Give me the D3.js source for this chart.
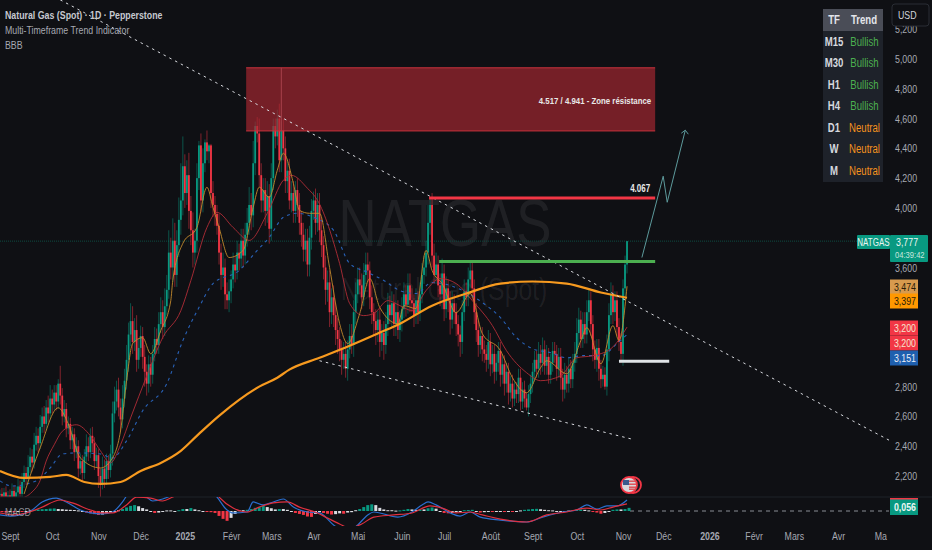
<!DOCTYPE html>
<html>
<head>
<meta charset="utf-8">
<script src="https://cdn.jsdelivr.net/npm/d3@7"></script>
<style>
html, body { margin: 0; padding: 0; background: #0f1014; }
svg { display: block; }
text { font-family: "Liberation Sans", sans-serif; }
</style>
</head>
<body>
<script>
const W = 932, H = 550;

// daily closes, first bar is index -5 (open = previous close)
const firstBar = -5;
const closes = [
    2.08,2.06,2.09,2.05,2.07,
    2.05,2.10,2.06,2.09,2.13,2.08,2.16,2.22,2.18,2.26,
    2.33,2.29,2.41,2.47,2.42,2.53,2.60,2.55,2.66,2.62,2.72,
    2.68,2.76,2.70,2.82,2.74,2.60,2.65,2.52,2.55,2.44,
    2.48,2.36,2.40,2.25,2.30,2.22,2.33,2.40,2.36,2.47,2.42,2.30,2.34,
    2.20,2.15,2.25,2.18,2.30,2.24,2.35,2.62,2.70,
    2.78,2.66,2.58,2.72,2.84,2.98,3.15,3.24,
    3.10,3.18,2.98,3.06,3.14,3.00,2.90,2.82,
    2.95,2.88,3.02,3.12,3.08,3.22,3.30,
    3.20,3.34,3.45,3.70,3.60,3.78,3.55,3.75,3.92,4.05,4.28,
    4.10,4.22,3.98,3.85,3.70,3.78,
    4.20,4.42,4.05,4.30,4.44,4.38,4.42,4.10,
    4.02,3.96,3.88,3.70,3.55,3.60,3.42,3.38,3.44,3.52,
    3.62,3.58,3.70,3.66,3.78,3.68,3.82,3.90,
    4.02,3.95,4.30,4.55,4.50,4.22,
    4.05,4.12,3.98,4.08,3.86,4.20,4.55,
    4.48,4.60,4.32,4.52,4.40,4.18,4.25,4.05,
    4.10,3.98,4.12,4.02,3.90,3.82,3.72,3.78,3.62,3.80,3.98,
    4.05,3.90,4.02,3.85,3.75,3.60,3.45,3.50,3.30,3.40,
    3.28,3.18,3.12,3.05,2.98,3.02,2.92,3.05,3.14,3.08,3.30,3.42,3.52,3.48,3.40,
    3.55,3.62,3.58,3.40,3.30,3.24,3.18,3.25,3.10,3.16,3.08,
    3.22,3.35,3.28,3.36,3.22,3.30,3.18,3.25,3.32,3.42,3.35,3.48,3.38,
    3.36,3.28,3.38,3.30,3.42,3.55,3.60,3.70,
    3.90,4.02,3.68,3.55,3.62,3.48,3.42,
    3.56,3.32,3.46,3.38,3.25,3.36,3.30,3.22,3.15,3.10,
    3.30,3.44,3.40,3.52,3.58,3.46,3.30,3.18,
    3.08,3.14,3.05,3.02,2.98,3.10,2.95,3.02,2.90,2.96,3.04,2.88,2.95,
    2.82,2.90,2.76,2.82,2.72,2.78,2.75,2.86,2.70,2.78,2.72,2.66,2.75,
    2.82,2.90,2.98,2.92,3.02,2.96,3.05,2.94,3.00,2.88,2.96,3.04,
    3.02,2.92,3.00,2.86,2.78,2.88,2.82,2.92,2.85,2.96,3.02,
    3.16,3.25,3.12,3.22,3.15,3.30,3.38,3.22,3.05,2.98,3.06,
    2.92,2.85,2.88,2.80,3.05,
    3.28,3.42,3.30,3.38,3.20,3.10,3.02,3.46,
    3.62,3.777
];
// wick lengths in cents above / below the body
const upperWick = [
    3,4,3,4,3,
    4,5,3,4,5,4,6,5,4,8,
    6,5,8,6,5,8,6,7,5,8,9,
    6,5,5,3,12,5,6,4,5,4,
    5,4,6,4,5,4,5,8,6,5,6,4,5,
    4,5,8,6,5,4,6,8,10,
    6,8,6,9,8,10,8,12,
    10,8,10,6,7,6,8,5,
    6,5,6,8,7,8,10,
    8,12,10,15,10,15,12,10,15,25,20,
    8,10,15,10,12,8,
    10,3,8,10,2,8,1,1,
    8,6,6,8,6,10,6,8,8,6,
    8,6,8,6,8,8,8,10,
    12,8,15,3,6,10,
    8,8,8,10,8,10,5,
    5,6,10,6,8,8,8,8,
    8,8,6,8,8,8,8,8,8,8,8,
    6,8,8,8,8,6,8,8,8,6,
    8,8,8,8,6,8,8,6,8,8,8,8,8,8,8,
    8,8,8,6,8,6,8,6,8,6,8,
    8,8,6,8,6,8,8,6,8,8,6,8,8,
    8,6,8,6,8,8,8,8,
    12,4,8,8,8,6,8,
    10,6,8,6,6,8,6,6,6,6,
    8,8,6,8,6,6,6,6,
    6,6,6,6,6,8,6,6,6,6,6,6,6,
    6,6,6,5,6,5,5,6,6,5,6,4,6,
    6,6,6,6,8,6,8,6,8,6,6,6,
    6,6,6,6,6,8,6,8,6,6,8,
    10,8,6,8,8,8,8,6,6,6,6,
    6,6,6,5,10,
    8,8,6,6,6,6,6,6,
    6,0
];
const lowerWick = [
    3,3,3,3,3,
    4,3,5,3,3,4,3,4,4,3,
    4,6,4,4,6,4,4,6,4,6,4,
    6,4,6,5,6,6,4,6,4,6,
    6,6,4,6,4,6,4,4,6,4,6,6,4,
    8,10,4,6,4,6,5,8,6,
    6,6,8,6,6,6,8,8,
    8,6,8,6,6,8,10,8,
    6,8,6,5,6,6,6,
    8,6,6,6,8,10,8,8,8,10,10,
    10,8,12,10,10,8,
    8,8,8,8,6,6,8,10,
    8,8,6,8,10,8,10,6,8,8,
    6,8,6,8,6,8,6,8,
    8,10,8,8,6,8,
    8,8,10,8,10,8,8,
    8,6,8,8,8,8,8,6,
    8,8,8,8,8,8,8,8,8,8,8,
    6,8,6,8,8,8,10,8,10,8,
    8,10,10,8,10,6,6,8,6,6,8,8,6,6,8,
    6,6,8,8,8,10,10,8,10,6,10,
    6,8,6,8,8,8,6,8,8,6,8,6,8,
    6,8,6,8,6,6,6,6,
    8,8,8,6,6,8,8,
    10,8,6,8,10,6,8,8,8,10,
    8,6,6,6,6,8,8,8,
    8,6,8,6,8,6,8,6,8,6,6,8,6,
    8,6,8,6,6,5,6,6,6,5,6,2,6,
    6,6,6,6,6,8,6,6,6,6,6,6,
    6,8,6,8,8,6,6,6,6,6,6,
    6,8,6,6,6,6,6,8,8,6,8,
    8,6,5,2,6,
    8,6,8,6,6,6,6,8,
    8,6
];

const longIdx = [-5,7,20,28,37,45,55,65,75,85,94,104,124,133,139,154,169,184,194,210,227,244,260,277,294,307];
const longVal = [2.234,2.187,2.194,2.207,2.16,2.147,2.16,2.234,2.288,2.369,2.483,2.604,2.80,2.86,2.914,2.994,3.075,3.163,3.223,3.344,3.425,3.492,3.506,3.492,3.432,3.397];
const fastIdx = [7,15,24,29,35,45,50,55,58,61,66,70,75,80,81,86,93,98,101,104,109,116,121,124,129,133,136,141,144,149,154,159,164,168,174,179,184,193,196,202,207,210,215,222,229,235,244,250,257,264,267,277,284,287,294,300,303,307];
const fastVal = [2.079,2.389,2.658,2.55,2.321,2.254,2.301,2.503,2.84,3.089,3.129,3.021,3.176,3.378,3.513,3.762,3.869,4.139,4.004,3.869,3.667,3.715,4.004,4.139,4.071,4.253,4.367,4.165,3.984,3.964,3.964,3.6,3.223,3.089,3.291,3.526,3.331,3.223,3.344,3.324,3.715,3.58,3.492,3.297,3.425,3.156,3.042,2.86,2.759,2.927,2.974,2.887,3.109,3.196,2.954,3.21,3.109,3.474];
const midIdx = [-5,5,11,15,18,22,26,33,40,45,50,55,60,68,76,85,90,98,103,111,119,128,136,140,148,153,164,169,176,181,188,194,200,207,214,222,230,240,247,257,264,274,282,290,299,307];
const midVal = [2.066,2.052,2.093,2.17,2.30,2.41,2.50,2.544,2.47,2.369,2.288,2.41,2.59,2.87,3.13,3.31,3.513,3.869,3.97,3.869,3.782,3.964,4.186,4.219,4.132,4.051,3.627,3.358,3.277,3.291,3.378,3.344,3.311,3.445,3.526,3.492,3.378,3.21,3.042,2.894,2.84,2.873,2.994,3.008,3.055,3.2];
const slowIdx = [-5,1,13,20,26,33,45,51,58,66,78,86,94,101,114,123,129,136,143,151,161,169,178,186,194,202,210,219,227,235,244,252,260,269,277,285,294,302,307];
const slowVal = [2.167,2.133,2.167,2.254,2.348,2.355,2.348,2.321,2.436,2.638,2.82,3.109,3.331,3.492,3.58,3.715,3.802,3.937,3.964,3.937,3.849,3.627,3.567,3.513,3.445,3.425,3.499,3.479,3.432,3.365,3.264,3.129,3.055,3.028,2.994,3.008,3.008,3.089,3.151];

// MACD panel
const macdIdx = [-5,0,5,11,16,23,28,35,40,46,51,56,59,63,68,71,76,81,90,97,103,108,111,118,121,126,131,136,141,148,154,161,167,173,178,181,193,200,205,208,212,219,224,229,234,244,257,265,275,282,287,292,297,302,307];
const macdVal = [-.02,-.026,-.02,.005,.046,.066,.046,.005,-.01,-.015,-.005,.046,.092,.122,.071,.051,.061,.082,.133,.133,.071,.005,-.01,-.005,.046,.031,.046,.061,.02,-.005,-.01,-.071,-.107,-.071,-.02,-.005,-.031,-.005,.031,.046,.031,-.01,-.026,-.005,-.031,-.046,-.056,-.031,-.005,.005,.031,.01,.026,.026,.056];
const signalIdx = [-5,2,8,15,25,31,40,46,51,58,63,70,76,81,92,100,104,111,118,124,131,138,144,153,158,164,169,175,181,191,200,209,215,222,229,235,244,257,267,277,287,294,300,307];
const signalVal = [-.01,-.02,-.01,.015,.056,.041,.005,-.01,-.01,.031,.071,.066,.051,.071,.122,.122,.071,.015,-.005,.02,.041,.046,.02,-.01,-.036,-.066,-.087,-.066,-.031,-.02,-.01,.026,.015,-.01,-.005,-.02,-.041,-.056,-.02,-.005,.015,.005,.02,.036];
// histogram in hundredths, one value every 2 bars from index -4
const histFirst = -4, histStep = 2;
const histVal = [
    -.6,-.8,-.5,-.7,-.4,-.5,-.3,.3, .5,.8,.9,1,1.2,1.3,1,.9, .7,.6,.5,.3,-.3,
    -.8,-1.2,-1.6,-2,-1.8,-1.5,-.8, -.4,.4,1,1.8,2.6,3,2.4,1.5, .8,-.4,-1,-.8,-.3,.3,.3,
    -.2,.4,1,1,1.5,.8, .4,-.3,-.4,-.6,-1, -2.5,-4,-5,-3.5,-1.5, .4,.4,.6,1,
    1.6,2,2.6,2,1.4,.8,1,1, .6,-.4,-1,-1.5,-2,-2.8,-3,-1.5,-.6,
    -1,-1.4,-1.8,-1.6,-1.2,-1.4,-.8,-.6,.4, 1,2,3,3.4,3,1.6,.8,.4,
    .4,.2,.3,.6,1,.8,.6,.8, .8,1.4,1.8,1.2,-.5,-1,-1.2,-1,
    -.6,-.3,.4,.5,.6,-.4,-.8,-.6, -.3,-.4,-.3,-.2,-.4,-.3,-.4,-.3,
    .3,.6,.8,1,1.1,.9,.6,.4, .3,-.3,-.3,-.2,.2,.5,.7,.8,
    .6,.3,-.4,-.8,-1.4,-1,-.5,.6, .8,.8,1,1.6
];

// axes, ticks hidden behind the price tags in the reference are left out
const priceTicks = [5.2,5,4.8,4.6,4.4,4.2,4,3.6,2.8,2.6,2.4,2.2];
const timeIdx = [0,21,44,65,87,110,130,151,173,195,216,239,260,282,305,325,348,370,390,412,433];
const timeLabels = ["Sept","Oct","Nov","Déc","2025","Févr","Mars","Avr","Mai","Juin","Juil","Août","Sept","Oct","Nov","Déc","2026","Févr","Mars","Avr","Ma"];

// trend table
const tfNames = ["M15","M30","H1","H4","D1","W","M"];
const tfTrends = ["Bullish","Bullish","Bullish","Bullish","Neutral","Neutral","Neutral"];

// price tags on the right
const tagValues = ["3,474","3,397","3,200","3,200","3,151"];
const tagFills = ["#d79a4e","#ff9800","#f23645","#f23645","#1e5fae"];
const tagText = ["#2a1c08","#2a1c08","#f6e6d0","#f6e6d0","#e8eef8"];

const svg = d3.select("body").append("svg").attr("width", W).attr("height", H);
svg.append("rect").attr("width", W).attr("height", H).attr("fill", "#0f1014");

const x = d3.scaleLinear().domain([0, 305]).range([10, 623]);
const y = d3.scaleLinear().domain([5, 2.2]).range([59, 476]);
const yMacd = d3.scaleLinear().domain([0.056, 0]).range([500, 511]);
const comma = d3.formatLocale({decimal: ",", thousands: " ", grouping: [3], currency: ["", ""]}).format(".3f");

const defs = svg.append("defs");
defs.append("clipPath").attr("id", "mainClip").append("rect").attr("x", 0).attr("y", 0).attr("width", 889).attr("height", 497);
defs.append("clipPath").attr("id", "macdClip").append("rect").attr("x", 0).attr("y", 497).attr("width", 889).attr("height", 29);

// watermark
svg.append("text").attr("x", 445).attr("y", 246).attr("text-anchor", "middle")
    .attr("font-size", 66).attr("fill", "#fff").attr("fill-opacity", 0.07).text("NATGAS");
svg.append("text").attr("x", 444).attr("y", 300).attr("text-anchor", "middle")
    .attr("font-size", 31).attr("fill", "#fff").attr("fill-opacity", 0.07).text("Natural Gas (Spot)");

const main = svg.append("g").attr("clip-path", "url(#mainClip)");

// last price line
main.append("line").attr("x1", 0).attr("x2", 857).attr("y1", y(3.777)).attr("y2", y(3.777))
    .attr("stroke", "#0d4a40").attr("stroke-width", 1).attr("stroke-dasharray", "1 1");

// candles
const bars = closes.map((c, i) => {
    const open = i > 0 ? closes[i - 1] : c;
    return {
        i: firstBar + i, open: open, close: c,
        high: Math.max(open, c) + upperWick[i] / 100,
        low: Math.min(open, c) - lowerWick[i] / 100
    };
});
const colorOf = (d) => d.close >= d.open ? "#089981" : "#f23645";
main.append("g").selectAll("line").data(bars).join("line")
    .attr("x1", (d) => x(d.i)).attr("x2", (d) => x(d.i))
    .attr("y1", (d) => y(d.high)).attr("y2", (d) => y(d.low))
    .attr("stroke", colorOf).attr("stroke-width", 1).attr("stroke-opacity", 0.5);
main.append("g").selectAll("rect").data(bars).join("rect")
    .attr("x", (d) => x(d.i) - 0.9).attr("width", 1.8)
    .attr("y", (d) => y(Math.max(d.open, d.close)))
    .attr("height", (d) => Math.max(1, Math.abs(y(d.open) - y(d.close))))
    .attr("fill", colorOf);

// moving averages
const maLine = d3.line().x((d) => x(d[0])).y((d) => y(d[1])).curve(d3.curveMonotoneX);
const drawMa = (idx, val, color, width, dash) => main.append("path")
    .attr("d", maLine(d3.zip(idx, val)))
    .attr("fill", "none").attr("stroke", color).attr("stroke-width", width)
    .attr("stroke-dasharray", dash);
drawMa(slowIdx, slowVal, "#2962b8", 1.1, "3 4");
drawMa(midIdx, midVal, "#b02c37", 0.9, null);
drawMa(fastIdx, fastVal, "#c48a2c", 0.9, null);
drawMa(longIdx, longVal, "#f79a1f", 2.2, null);

// resistance zone
const zoneLeft = 117.5, zoneRight = 321, zoneTop = 4.941, zoneBottom = 4.517;
main.append("rect").attr("x", x(zoneLeft)).attr("width", x(zoneRight) - x(zoneLeft))
    .attr("y", y(zoneTop)).attr("height", y(zoneBottom) - y(zoneTop))
    .attr("fill", "#a62630").attr("fill-opacity", 0.68);
[zoneTop, zoneBottom].forEach((v) => main.append("line")
    .attr("x1", x(zoneLeft)).attr("x2", x(zoneRight)).attr("y1", y(v)).attr("y2", y(v))
    .attr("stroke", "#c9323d").attr("stroke-width", 1));
main.append("line").attr("x1", x(135)).attr("x2", x(135)).attr("y1", y(zoneTop)).attr("y2", y(zoneBottom))
    .attr("stroke", "#a8424b").attr("stroke-width", 1);
main.append("text").attr("x", x(zoneRight) - 4).attr("y", 104).attr("text-anchor", "end")
    .attr("font-size", 9.8).attr("font-weight", 700).attr("fill", "#e8e8e8")
    .text("4.517 / 4.941 - Zone résistance");

// trend lines
const trendA = [[25, 5.397], [438, 2.436]];
const trendB = [[154, 2.974], [309, 2.449]];
[trendA, trendB].forEach((t) => main.append("line")
    .attr("x1", x(t[0][0])).attr("y1", y(t[0][1])).attr("x2", x(t[1][0])).attr("y2", y(t[1][1]))
    .attr("stroke", "#d8dadf").attr("stroke-width", 1).attr("stroke-dasharray", "2.5 4"));

// levels
const levelLine = (i0, i1, v, color) => main.append("line")
    .attr("x1", x(i0)).attr("x2", x(i1)).attr("y1", y(v)).attr("y2", y(v))
    .attr("stroke", color).attr("stroke-width", 3);
levelLine(208.5, 321, 4.067, "#f23645");
levelLine(213.5, 321, 3.64, "#4caf50");
levelLine(303, 328, 2.97, "#dfe3e6");
main.append("text").attr("x", x(321) - 5).attr("y", 192).attr("text-anchor", "end")
    .attr("font-size", 10).attr("font-weight", 700).attr("fill", "#e8e8e8").text("4.067");

// arrow
const arrowPts = [[314.4, 3.667], [325, 4.213], [327, 4.038], [336, 4.522]];
main.append("path")
    .attr("d", d3.line().x((d) => x(d[0])).y((d) => y(d[1]))(arrowPts))
    .attr("fill", "none").attr("stroke", "#5d9a9c").attr("stroke-width", 1);
const tip = arrowPts[3];
main.append("path")
    .attr("d", `M${x(tip[0]) - 4},${y(tip[1]) + 3}L${x(tip[0])},${y(tip[1])}L${x(tip[0]) + 3},${y(tip[1]) + 4}`)
    .attr("fill", "none").attr("stroke", "#5d9a9c").attr("stroke-width", 1);

// earnings marker
const mark = svg.append("g").attr("transform", "translate(631,485)");
mark.append("circle").attr("cx", 2).attr("r", 8).attr("fill", "#171a22").attr("stroke", "#f23645").attr("stroke-width", 1.8);
mark.append("circle").attr("cx", -2).attr("r", 8).attr("fill", "#d8d8dc").attr("stroke", "#f23645").attr("stroke-width", 1.8);
mark.append("rect").attr("x", -8).attr("y", -5).attr("width", 6).attr("height", 5).attr("fill", "#3a5a8c");
[-4, -1, 2, 4].forEach((v) => mark.append("rect").attr("x", -2).attr("y", v - 0.5).attr("width", 7).attr("height", 1.4).attr("fill", "#e04a4f"));

// MACD panel
svg.append("line").attr("x1", 0).attr("x2", W).attr("y1", 497).attr("y2", 497).attr("stroke", "#1f2228");
svg.append("line").attr("x1", 630).attr("x2", 889).attr("y1", yMacd(0)).attr("y2", yMacd(0))
    .attr("stroke", "#8a8d94").attr("stroke-dasharray", "4 4");
const macd = svg.append("g").attr("clip-path", "url(#macdClip)");
const hist = histVal.map((v, i) => ({
    i: histFirst + i * histStep, v: v / 100,
    grow: i > 0 ? Math.abs(v) > Math.abs(histVal[i - 1]) : true
}));
const histColor = (d) => d.v >= 0 ? (d.grow ? "#089981" : "#d9dbe0") : (d.grow ? "#f23645" : "#d9dbe0");
macd.selectAll("rect").data(hist).join("rect")
    .attr("x", (d) => x(d.i) - 1.5).attr("width", 3)
    .attr("y", (d) => Math.min(yMacd(d.v), yMacd(0)))
    .attr("height", (d) => Math.max(1, Math.abs(yMacd(d.v) - yMacd(0))))
    .attr("fill", histColor);
const macdLine = d3.line().x((d) => x(d[0])).y((d) => yMacd(d[1])).curve(d3.curveMonotoneX);
macd.append("path").attr("d", macdLine(d3.zip(macdIdx, macdVal)))
    .attr("fill", "none").attr("stroke", "#2a6fd0").attr("stroke-width", 1.2);
macd.append("path").attr("d", macdLine(d3.zip(signalIdx, signalVal)))
    .attr("fill", "none").attr("stroke", "#e0303f").attr("stroke-width", 1.2);
svg.append("text").attr("x", 5).attr("y", 516).attr("font-size", 11).attr("fill", "#b2b5be").attr("fill-opacity", 0.75).text("MACD");

// right price axis
const yAxis = svg.append("g").attr("transform", "translate(895,0)")
    .call(d3.axisRight(y).tickValues(priceTicks).tickSize(0).tickPadding(0).tickFormat(comma));
yAxis.select(".domain").remove();
yAxis.selectAll("text").attr("font-size", 11).attr("fill", "#a6a9b2");

// bottom time axis
const xAxis = svg.append("g").attr("transform", "translate(0,532)")
    .call(d3.axisBottom(x).tickValues(timeIdx).tickSize(0).tickPadding(0).tickFormat((d, i) => timeLabels[i]));
xAxis.select(".domain").remove();
xAxis.selectAll("text").attr("font-size", 11).attr("fill", "#a6a9b2")
    .attr("font-weight", (d, i) => /^20/.test(timeLabels[i]) ? 700 : 400);

// price tags
tagValues.forEach((v, i) => {
    const cy = [287, 301, 328, 343, 358][i];
    svg.append("rect").attr("x", 890).attr("y", cy - 7.5).attr("width", 28).attr("height", 15).attr("fill", tagFills[i]);
    svg.append("text").attr("x", 916).attr("y", cy + 4).attr("text-anchor", "end")
        .attr("font-size", 11).attr("fill", tagText[i]).text(v);
});

// last price tag
svg.append("rect").attr("x", 857).attr("y", 235).attr("width", 33).attr("height", 14).attr("rx", 1).attr("fill", "#089981");
svg.append("text").attr("x", 873.5).attr("y", 246).attr("text-anchor", "middle")
    .attr("font-size", 10).attr("fill", "#e8f5f1").text("NATGAS");
svg.append("rect").attr("x", 890).attr("y", 235).attr("width", 38).attr("height", 27).attr("rx", 1).attr("fill", "#089981");
svg.append("text").attr("x", 896).attr("y", 246).attr("font-size", 11).attr("fill", "#eef8f5").text("3,777");
svg.append("text").attr("x", 895).attr("y", 258).attr("font-size", 9.5).attr("fill", "#c9e6de").text("04:39:42");

// MACD value tag
svg.append("rect").attr("x", 890).attr("y", 498).attr("width", 28).attr("height", 17).attr("fill", "#089981");
svg.append("rect").attr("x", 890).attr("y", 498).attr("width", 28).attr("height", 1.5).attr("fill", "#f23645");
svg.append("text").attr("x", 916).attr("y", 511).attr("text-anchor", "end")
    .attr("font-size", 11).attr("font-weight", 700).attr("fill", "#eef8f5").text("0,056");

// USD button
svg.append("rect").attr("x", 892).attr("y", 4).attr("width", 37).attr("height", 22).attr("rx", 3)
    .attr("fill", "#0f1014").attr("stroke", "#2a2d34");
svg.append("text").attr("x", 898).attr("y", 19).attr("font-size", 11).attr("fill", "#d1d4dc").text("USD");

// legend top left
svg.append("text").attr("x", 5).attr("y", 19).attr("font-size", 11).attr("font-weight", 700).attr("fill", "#c6c9d0")
    .text("Natural Gas (Spot) · 1D · Pepperstone");
svg.append("text").attr("x", 5).attr("y", 34).attr("font-size", 11).attr("fill", "#a6a9b2").text("Multi-Timeframe Trend Indicator");
svg.append("text").attr("x", 5).attr("y", 49).attr("font-size", 11).attr("fill", "#a6a9b2").text("BBB");

// trend table
const table = svg.append("g");
table.append("rect").attr("x", 823).attr("y", 9).attr("width", 60).attr("height", 173).attr("fill", "#1e222a");
table.append("rect").attr("x", 823).attr("y", 9).attr("width", 60).attr("height", 22).attr("fill", "#4a4d57");
table.append("text").attr("x", 834).attr("y", 24).attr("text-anchor", "middle").attr("font-size", 12).attr("font-weight", 700).attr("fill", "#e3e5ea").text("TF");
table.append("text").attr("x", 864).attr("y", 24).attr("text-anchor", "middle").attr("font-size", 12).attr("font-weight", 700).attr("fill", "#e3e5ea").text("Trend");
tfNames.forEach((t, i) => {
    const ry = 45.5 + i * 21.5;
    table.append("text").attr("x", 834).attr("y", ry).attr("text-anchor", "middle")
        .attr("font-size", 12).attr("font-weight", 700).attr("fill", "#d5d8de").text(t);
    table.append("text").attr("x", 864.5).attr("y", ry).attr("text-anchor", "middle")
        .attr("font-size", 12).attr("fill", tfTrends[i] === "Bullish" ? "#4caf50" : "#f7931e").text(tfTrends[i]);
});

// the reference font is narrow, squeeze every label to match
svg.selectAll("text").each(function () {
    d3.select(this)
        .attr("textLength", this.getComputedTextLength() * 0.8)
        .attr("lengthAdjust", "spacingAndGlyphs");
});
</script>
</body>
</html>
